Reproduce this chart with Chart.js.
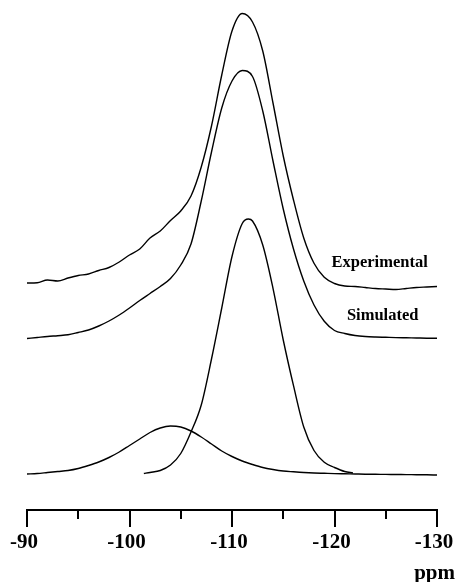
<!DOCTYPE html>
<html>
<head>
<meta charset="utf-8">
<script src="https://cdn.jsdelivr.net/npm/chart.js@4/dist/chart.umd.min.js"></script>
<style>
  html, body { margin: 0; padding: 0; background: #fff; }
  canvas { display: block; }
</style>
</head>
<body>
<canvas id="spectrum" width="456" height="582"></canvas>
<script>
// Chemical shift grid (ppm) shared by the stacked traces
const ppmGrid = [-90, -91, -92, -93, -94, -95, -96, -97, -98, -99, -100,
  -101, -102, -103, -104, -105, -106, -107, -108, -109, -110,
  -111, -112, -113, -114, -115, -116, -117, -118, -119, -120,
  -121, -122, -123, -124, -125, -126, -127, -128, -129, -130];

// Measured spectrum (arbitrary intensity units)
const experimental = [4, 4.3, 7, 6, 9, 11.5, 13, 16.5, 19.5, 25, 32,
  38, 49, 56, 66.5, 76, 91, 120, 161, 212, 256,
  273.5, 265, 236, 184, 131, 87, 49, 23.7, 9.7, 3.5,
  1, 0.5, -0.5, -1.5, -2, -2.5, -1.5, -0.5, 0, 0.5];

// Fitted total spectrum
const simulated = [0, 1, 2, 2.8, 3.7, 6, 8.5, 12.5, 17.5, 23.5, 30.5,
  38, 45, 52, 60, 73.5, 94.5, 137.5, 186.5, 230.5, 257.5,
  268, 262, 227.5, 177.5, 129.5, 89.5, 57.5, 33.5, 17.2, 8,
  5, 3, 2, 1.5, 1.2, 0.9, 0.7, 0.5, 0.3, 0.2];

// Narrow Q4 component of the fit
const mainPpm = [-101.4, -102, -103, -104, -105, -106, -107, -108, -109, -110,
  -111, -111.6, -112, -113, -114, -115, -116, -117, -118, -119, -120, -121, -121.8];
const mainComponent = [0.5, 1.5, 3.5, 9, 20.5, 42, 69, 115, 166, 217.5,
  250.5, 255, 253, 229, 185.7, 134, 88.3, 47, 23.5, 11.7, 6.5, 2.5, 1];

// Broad Q3 component of the fit (on ppmGrid)
const broadComponent = [0, 0.5, 1.5, 2.5, 3.5, 5.5, 8.5, 12, 16.5, 22, 28.5,
  35, 41.5, 46, 48, 47, 43, 37, 30, 23, 17.5,
  13, 9.5, 6.5, 4.5, 3, 2.2, 1.5, 1, 0.7, 0.4,
  0.2, 0, -0.2, -0.3, -0.4, -0.5, -0.6, -0.7, -0.8, -1];

// Vertical stacking offsets of the three groups of traces
const baselineExperimental = 223;
const baselineSimulated = 171.5;
const baselineComponents = 36;

// Axis ticks
const majorTicks = [-90, -100, -110, -120, -130];
const minorTicks = [-95, -105, -115, -125];
const axisUnit = 'ppm';

// Trace captions, anchored in data coordinates
const captions = [
  { text: 'Experimental', ppm: -124.4, y: 247 },
  { text: 'Simulated', ppm: -124.7, y: 194 }
];

const toPoints = (xs, ys, base) => xs.map((x, i) => ({ x: x, y: base + ys[i] }));

const serif = '"Liberation Serif", "Times New Roman", serif';
const lineStyle = {
  borderColor: '#000', borderWidth: 1.4, pointRadius: 0,
  cubicInterpolationMode: 'monotone', fill: false
};

const decorations = {
  id: 'decorations',
  afterDraw(chart) {
    const ctx = chart.ctx;
    const xs = chart.scales.x;
    const ys = chart.scales.y;
    ctx.save();
    // tick marks hanging below the axis line
    ctx.strokeStyle = '#000';
    ctx.lineWidth = 2;
    ctx.lineCap = 'butt';
    const top = xs.top;
    majorTicks.concat(minorTicks).forEach(v => {
      const px = Math.round(xs.getPixelForValue(v));
      const len = majorTicks.includes(v) ? 17 : 9;
      ctx.beginPath();
      ctx.moveTo(px, top);
      ctx.lineTo(px, top + len);
      ctx.stroke();
    });
    // trace captions
    ctx.fillStyle = '#000';
    ctx.font = 'bold 16.5px ' + serif;
    ctx.textAlign = 'center';
    ctx.textBaseline = 'middle';
    captions.forEach(c => {
      ctx.fillText(c.text, xs.getPixelForValue(c.ppm), ys.getPixelForValue(c.y));
    });
    // unit label under the last tick
    ctx.font = 'bold 21px ' + serif;
    ctx.textAlign = 'right';
    ctx.textBaseline = 'alphabetic';
    ctx.fillText(axisUnit, chart.width - 1, chart.height - 3);
    ctx.restore();
  }
};

new Chart(document.getElementById('spectrum'), {
  type: 'line',
  data: {
    datasets: [
      Object.assign({ label: 'Experimental', data: toPoints(ppmGrid, experimental, baselineExperimental) }, lineStyle),
      Object.assign({ label: 'Simulated', data: toPoints(ppmGrid, simulated, baselineSimulated) }, lineStyle),
      Object.assign({ label: 'Q4', data: toPoints(mainPpm, mainComponent, baselineComponents) }, lineStyle),
      Object.assign({ label: 'Q3', data: toPoints(ppmGrid, broadComponent, baselineComponents) }, lineStyle)
    ]
  },
  options: {
    responsive: false,
    animation: false,
    devicePixelRatio: 1,
    layout: { padding: { left: 27, right: 19, top: 0, bottom: 0 } },
    plugins: { legend: { display: false }, tooltip: { enabled: false } },
    scales: {
      x: {
        type: 'linear',
        reverse: true,
        min: -130,
        max: -90,
        position: 'bottom',
        afterBuildTicks(scale) {
          scale.ticks = majorTicks.concat(minorTicks).sort((a, b) => b - a).map(v => ({ value: v }));
        },
        afterFit(scale) {
          scale.height = 72;
          scale.paddingLeft = 0;
          scale.paddingRight = 0;
        },
        grid: { display: false, drawTicks: false },
        border: { display: true, color: '#000', width: 2 },
        ticks: {
          color: '#000',
          padding: 20,
          labelOffset: -3,
          maxRotation: 0,
          autoSkip: false,
          font: { family: serif, weight: 'bold', size: 21, lineHeight: 1.2 },
          callback: v => (majorTicks.includes(v) ? String(v) : '')
        }
      },
      y: {
        display: false,
        min: 0,
        max: 510
      }
    }
  },
  plugins: [decorations]
});
</script>
</body>
</html>
